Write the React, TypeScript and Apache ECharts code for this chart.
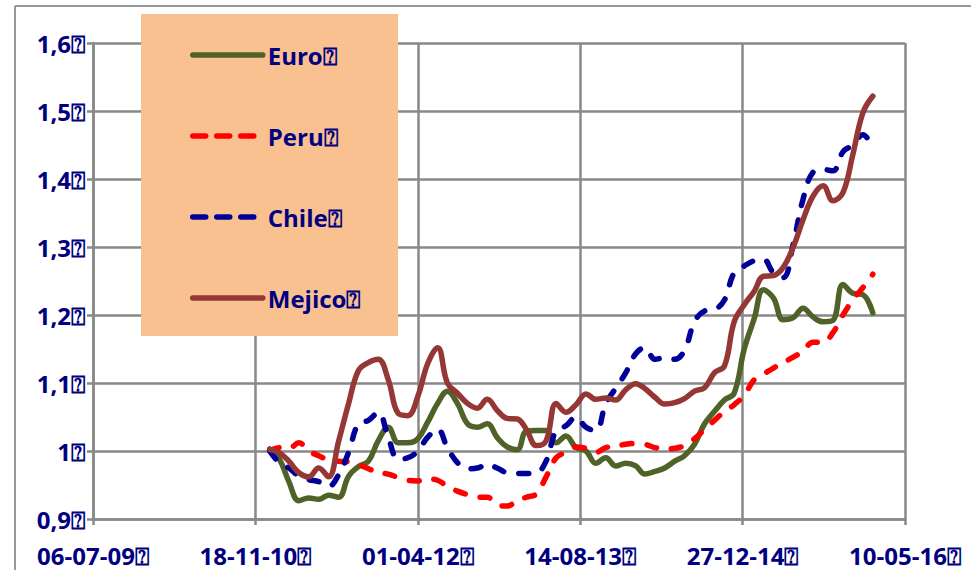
import React, { useEffect, useRef } from "react";
import * as echarts from "echarts";

const months = [
  "2011-01", "2011-02", "2011-03", "2011-04", "2011-05", "2011-06", "2011-07", "2011-08", "2011-09", "2011-10", "2011-11", "2011-12",
  "2012-01", "2012-02", "2012-03", "2012-04", "2012-05", "2012-06", "2012-07", "2012-08", "2012-09", "2012-10", "2012-11", "2012-12",
  "2013-01", "2013-02", "2013-03", "2013-04", "2013-05", "2013-06", "2013-07", "2013-08", "2013-09", "2013-10", "2013-11", "2013-12",
  "2014-01", "2014-02", "2014-03", "2014-04", "2014-05", "2014-06", "2014-07", "2014-08", "2014-09", "2014-10", "2014-11", "2014-12",
  "2015-01", "2015-02", "2015-03", "2015-04", "2015-05", "2015-06", "2015-07", "2015-08", "2015-09", "2015-10", "2015-11", "2015-12",
  "2016-01", "2016-02",
];

const euro = [
  1.003, 0.987, 0.955, 0.927, 0.931, 0.929, 0.935, 0.932, 0.963, 0.977, 0.985, 1.015,
  1.035, 1.012, 1.012, 1.018, 1.042, 1.07, 1.088, 1.07, 1.04, 1.035, 1.04, 1.02,
  1.006, 1.002, 1.029, 1.03, 1.03, 1.012, 1.022, 1.005, 1.0, 0.982, 0.99, 0.978,
  0.982, 0.978, 0.966, 0.97, 0.975, 0.985, 0.993, 1.01, 1.04, 1.058, 1.075, 1.085,
  1.15, 1.195, 1.237, 1.225, 1.193, 1.196, 1.21, 1.197, 1.19, 1.192, 1.245, 1.232,
  1.23, 1.203,
];

const peru = [
  1.0, 1.005, 1.004, 1.012, 1.0, 0.993, 0.987, 0.985, 0.984, 0.98, 0.974, 0.968,
  0.966, 0.961, 0.957, 0.956, 0.959, 0.957, 0.948, 0.941, 0.936, 0.932, 0.932, 0.921,
  0.919, 0.927, 0.932, 0.937, 0.962, 0.99, 0.998, 1.006, 1.004, 0.998, 1.005, 1.007,
  1.01, 1.011, 1.01, 1.005, 1.003, 1.004, 1.008, 1.018, 1.032, 1.045, 1.058, 1.068,
  1.082, 1.105, 1.113, 1.122, 1.13, 1.138, 1.147, 1.16, 1.16, 1.174, 1.2, 1.222,
  1.24, 1.26,
];

const chile = [
  1.0, 0.982, 0.975, 0.963, 0.958, 0.955, 0.948, 0.965, 0.998, 1.04, 1.045, 1.057,
  1.02, 0.988, 0.99, 1.0, 1.02, 1.032, 1.005, 0.983, 0.974, 0.975, 0.98, 0.975,
  0.968, 0.967, 0.967, 0.968, 0.985, 1.03, 1.037, 1.05, 1.035, 1.03, 1.07, 1.092,
  1.115, 1.143, 1.152, 1.135, 1.137, 1.135, 1.148, 1.19, 1.206, 1.208, 1.222, 1.262,
  1.272, 1.28, 1.282, 1.262, 1.255, 1.305, 1.37, 1.41, 1.414, 1.412, 1.44, 1.45,
  1.465, 1.447,
];

const mejico = [
  1.002, 0.997, 0.985, 0.968, 0.962, 0.975, 0.962, 1.014, 1.07, 1.118, 1.13, 1.135,
  1.105, 1.055, 1.052, 1.08, 1.128, 1.152, 1.1, 1.085, 1.07, 1.063, 1.076, 1.06,
  1.048, 1.047, 1.032, 1.008, 1.015, 1.07, 1.057, 1.068, 1.084, 1.076, 1.078, 1.075,
  1.09, 1.099, 1.092, 1.079, 1.069, 1.071, 1.077, 1.088, 1.093, 1.115, 1.125, 1.19,
  1.215, 1.235, 1.257, 1.258, 1.27, 1.3, 1.34, 1.375, 1.39, 1.368, 1.38, 1.435,
  1.497, 1.522,
];

const seriesNames = ["Euro", "Peru", "Chile", "Mejico"];
const seriesColors = ["#4F6228", "#FF0000", "#000099", "#953735"];
const seriesDashed = [false, true, true, false];

const BOX = "\u2370";
const X_ORIGIN = Date.UTC(2009, 6, 6);
const DAY = 86400000;
const X_STEP_DAYS = 500;
const X_MAX_DAYS = 2500;

const toOffset = (m: string) => {
  const [y, mo] = m.split("-").map(Number);
  return (Date.UTC(y, mo - 1, 1) - X_ORIGIN) / DAY;
};
const pad = (n: number) => (n < 10 ? "0" + n : "" + n);
const fmtDate = (off: number) => {
  const d = new Date(X_ORIGIN + Math.round(off) * DAY);
  return pad(d.getUTCDate()) + "-" + pad(d.getUTCMonth() + 1) + "-" + pad(d.getUTCFullYear() % 100) + BOX;
};
const fmtVal = (v: number) => String(Number(v.toFixed(1))).replace(".", ",") + BOX;

const TEXT = "#000080";
const GRID = "#898989";
const FONT = "Open Sans";

export default function App() {
  const ref = useRef<HTMLDivElement>(null);
  useEffect(() => {
    if (!ref.current) return;
    const chart = echarts.init(ref.current, null, { renderer: "svg" });
    const all = [euro, peru, chile, mejico];
    chart.setOption({
      animation: false,
      backgroundColor: "#ffffff",
      grid: { left: 93, right: 66, top: 43, bottom: 51, containLabel: false },
      xAxis: {
        type: "value",
        min: 0,
        max: X_MAX_DAYS,
        interval: X_STEP_DAYS,
        axisLine: { show: true, lineStyle: { color: GRID, width: 2.5 } },
        axisTick: { show: true, length: 6, lineStyle: { color: GRID, width: 2.5 } },
        splitLine: { show: true, lineStyle: { color: GRID, width: 2.5 } },
        axisLabel: {
          formatter: (v: number) => fmtDate(v),
          color: TEXT,
          fontFamily: FONT,
          fontWeight: "bold",
          fontSize: 24,
          margin: 24,
          showMinLabel: true,
          showMaxLabel: true,
        },
      },
      yAxis: {
        type: "value",
        min: 0.9,
        max: 1.6,
        interval: 0.1,
        axisLine: { show: true, lineStyle: { color: GRID, width: 2.5 } },
        axisTick: { show: true, length: 6, lineStyle: { color: GRID, width: 2.5 } },
        splitLine: { show: true, lineStyle: { color: GRID, width: 2.5 } },
        axisLabel: {
          formatter: (v: number) => fmtVal(v),
          color: TEXT,
          fontFamily: FONT,
          fontWeight: "bold",
          fontSize: 24,
          margin: 8,
        },
      },
      legend: {
        orient: "vertical",
        left: 190,
        top: 41,
        padding: 0,
        itemWidth: 70,
        itemHeight: 5,
        itemGap: 53,
        itemTextGap: 6,
        z: 6,
        itemStyle: { opacity: 0 },
        lineStyle: { width: 5.5, cap: "round" },
        textStyle: { color: TEXT, fontFamily: FONT, fontWeight: "bold", fontSize: 24, lineHeight: 28 },
        formatter: (n: string) => n + BOX,
        data: seriesNames.map((name, i) => ({
          name,
          lineStyle: {
            width: 5.5,
            cap: "round",
            type: seriesDashed[i] ? [13, 11] : "solid",
          },
        })),
      },
      graphic: [
        { type: "line", z: 0, shape: { x1: 15, y1: 6, x2: 971, y2: 6 }, style: { stroke: "#999999", lineWidth: 2 } },
        { type: "line", z: 0, shape: { x1: 15, y1: 6, x2: 15, y2: 570 }, style: { stroke: "#999999", lineWidth: 2 } },
        { type: "rect", z: 3, shape: { x: 141, y: 14, width: 257, height: 322 }, style: { fill: "#F9C090" } },
      ],
      series: seriesNames.map((name, i) => ({
        name,
        type: "line",
        smooth: 0.4,
        symbol: "none",
        color: seriesColors[i],
        lineStyle: {
          color: seriesColors[i],
          width: 5.5,
          type: seriesDashed[i] ? [10, 15] : "solid",
          cap: "round",
          join: "round",
        },
        data: months.map((m, k) => [toOffset(m), all[i][k]]),
      })),
    });
    return () => chart.dispose();
  }, []);
  return <div ref={ref} style={{ width: 971, height: 570, position: "absolute", left: 0, top: 0 }} />;
}
